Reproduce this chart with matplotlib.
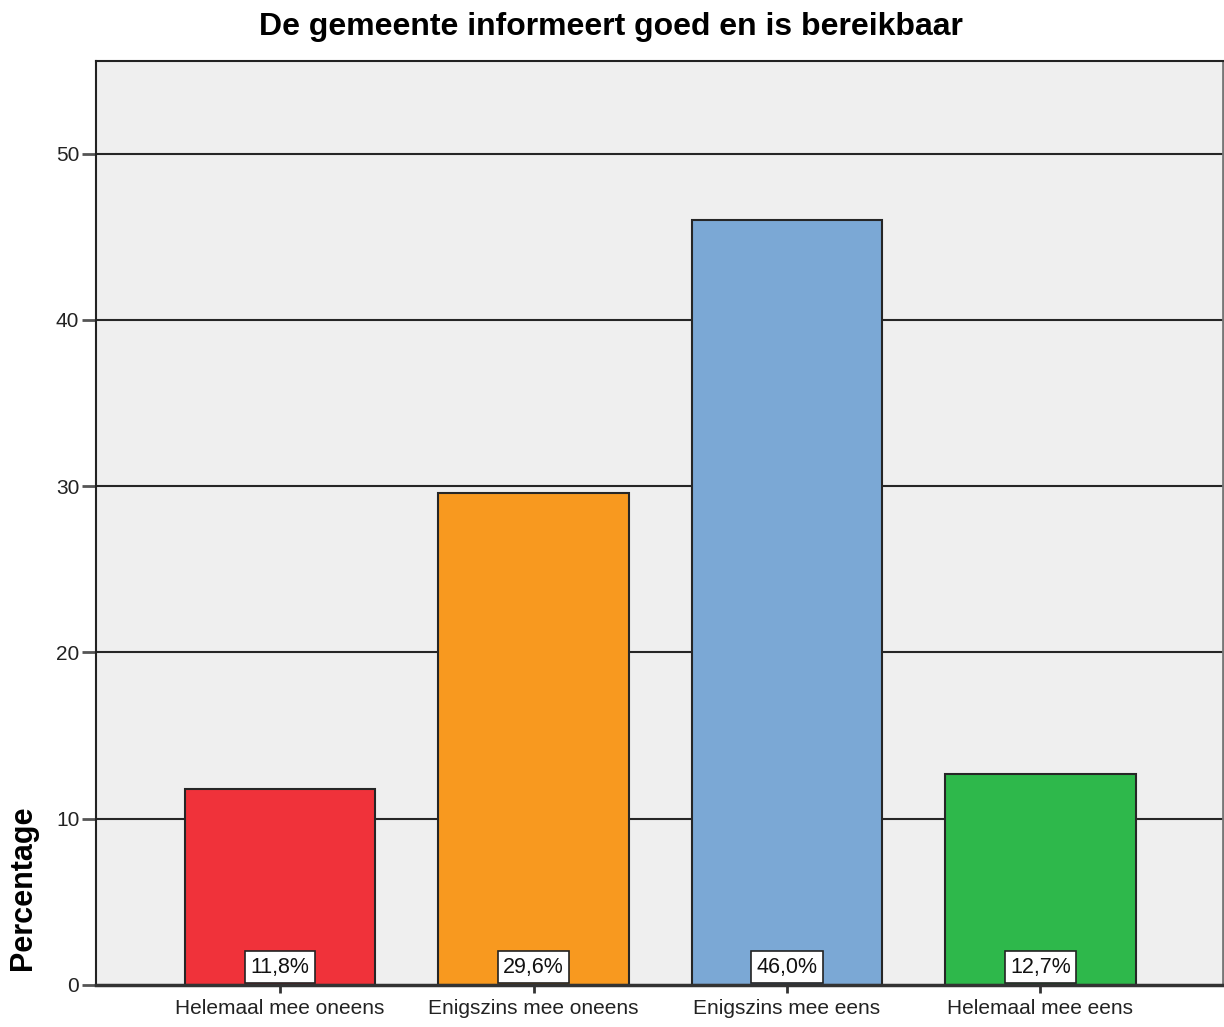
import matplotlib
matplotlib.use("Agg")
import matplotlib.pyplot as plt

categories = ["Helemaal mee oneens", "Enigszins mee oneens", "Enigszins mee eens", "Helemaal mee eens"]
values = [11.8, 29.6, 46.0, 12.7]
labels = ["11,8%", "29,6%", "46,0%", "12,7%"]
colors = ["#F0323A", "#F8991F", "#7BA8D5", "#2EB84B"]
yticks = [0, 10, 20, 30, 40, 50]

plt.rcParams['font.family'] = ['Liberation Sans', 'DejaVu Sans']

fig = plt.figure(figsize=(12.24, 10.27), dpi=100)
ax = fig.add_axes([96/1224, 42/1027, (1223-96)/1224, (985-60.5)/1027])
ax.set_facecolor("#EFEFEF")

x = list(range(len(categories)))
ax.set_ylim(0, 55.6)
ax.set_xlim(-0.726, 3.72)
ax.set_yticks(yticks)
for t in yticks[1:]:
    ax.axhline(t, color="#262626", lw=1.5, zorder=1)

ax.bar(x, values, width=0.75, color=colors, edgecolor="#262626", linewidth=1.5, zorder=2)

for xi, lab in zip(x, labels):
    ax.annotate(lab, (xi, 0), xytext=(0, 5.4), textcoords="offset points",
                ha="center", va="bottom", fontsize=15.5, zorder=4, color="#111111",
                bbox=dict(boxstyle="square,pad=0.25", fc="white", ec="#222222", lw=1.2))

ax.set_xticks(x)
ax.set_xticklabels(categories, fontsize=15, color="#222222")
ax.tick_params(axis='x', length=6, width=2, color="#333333", pad=4)
ax.tick_params(axis='y', length=10, width=2, color="#555555", labelsize=15, pad=2, labelcolor="#222222")

for s in ["left", "top"]:
    ax.spines[s].set_color("#222222")
    ax.spines[s].set_linewidth(1.5)
ax.spines["right"].set_color("#777777")
ax.spines["right"].set_linewidth(2)
ax.spines["bottom"].set_color("#333333")
ax.spines["bottom"].set_linewidth(2.5)

ax.set_ylabel("Percentage", fontsize=22, fontweight="bold", loc="bottom")
ax.yaxis.set_label_coords((38-96)/1127, 15/924.5)
fig.text(611/1224, 1 - 27/1027, "De gemeente informeert goed en is bereikbaar",
         ha="center", va="center", fontsize=23, fontweight="bold")

fig.savefig("out.png", dpi=100)
